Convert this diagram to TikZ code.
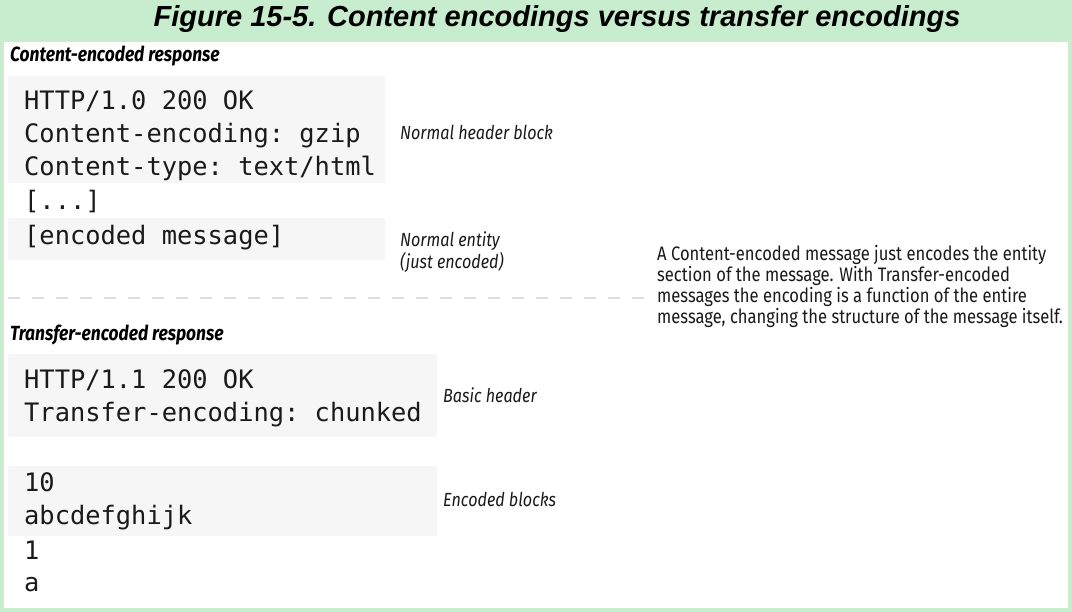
\documentclass[tikz,border=0pt]{standalone}
\usepackage{fontspec}
\setmainfont{Fira Sans}
\setmonofont{DejaVu Sans Mono}
\newfontfamily\titlefont{Liberation Sans}
\newfontfamily\notefont[FakeStretch=0.85]{Fira Sans}
\usetikzlibrary{positioning,backgrounds}
\definecolor{Frame}{HTML}{C8EDCE}
\definecolor{Shade}{HTML}{F6F6F6}
\definecolor{DashGray}{HTML}{DDDDDD}
\definecolor{Ink}{HTML}{1A1A1A}

\begin{document}
\begin{tikzpicture}[x=1pt,y=-1pt]
  \tikzstyle{code}=[anchor=base west,inner sep=0pt,text=Ink,font=\fontsize{25.4}{30}\selectfont\ttfamily]
  \tikzstyle{shade}=[fill=Shade,draw=none,anchor=north west,inner sep=0pt]
  \tikzstyle{note}=[anchor=base west,inner sep=0pt,text=Ink,font=\notefont\itshape\fontsize{19}{22}\selectfont]
  \tikzstyle{head}=[anchor=base west,inner sep=0pt,text=black,font=\notefont\bfseries\itshape\fontsize{20.5}{22}\selectfont]
  \fill[Frame] (0,0) rectangle (1072,612);
  \fill[white] (4,42) rectangle (1068,608);
  \node[anchor=base,inner sep=0pt,font=\titlefont\bfseries\itshape\fontsize{29}{32}\selectfont] (title) at (557,27) {Figure 15-5. Content encodings versus transfer encodings};

  % content-encoded response
  \node[head] (chead) at (10,62) {Content-encoded response};
  \node[shade,minimum width=377pt,minimum height=107pt] (cbox) at (8,76) {};
  \node[shade,minimum width=377pt,minimum height=42pt] (ebox) at (8,218) {};
  \node[code] (c1) at (24,110) {HTTP/1.0 200 OK};
  \node[code] (c2) at (24,143) {Content-encoding: gzip};
  \node[code] (c3) at (24,176) {Content-type: text/html};
  \node[code] (c4) at (24,210) {[...]};
  \node[code] (c5) at (24,245) {[encoded message]};
  \node[note] (hnote) at (400,140) {Normal header block};
  \node[note] (enote) at (400,247) {Normal entity};
  \node[note] (enote2) at (400,269) {(just encoded)};

  \draw[DashGray,line width=2.5pt,dash pattern=on 12pt off 12pt] (8,298) coordinate (d1) -- (645,298) coordinate (d2);

  % transfer-encoded response
  \node[head] (thead) at (10,341) {Transfer-encoded response};
  \node[shade,minimum width=429pt,minimum height=83pt] (tbox) at (8,354) {};
  \node[shade,minimum width=429pt,minimum height=70pt] (bbox) at (8,466) {};
  \node[code] (t1) at (24,389) {HTTP/1.1 200 OK};
  \node[code] (t2) at (24,422) {Transfer-encoding: chunked};
  \node[code] (b1) at (24,491) {10};
  \node[code] (b2) at (24,525) {abcdefghijk};
  \node[code] (b3) at (24,559) {1};
  \node[code] (b4) at (24,591) {a};
  \node[note] (tnote) at (443,403) {Basic header};
  \node[note] (bnote) at (443,506) {Encoded blocks};

  \node[anchor=north west,inner sep=0pt,align=left,text=Ink,font=\notefont\fontsize{19.5}{21}\selectfont] (desc) at (657,245)
    {A Content-encoded message just encodes the entity\\section of the message. With Transfer-encoded\\messages the encoding is a function of the entire\\message, changing the structure of the message itself.};
\end{tikzpicture}
\end{document}
